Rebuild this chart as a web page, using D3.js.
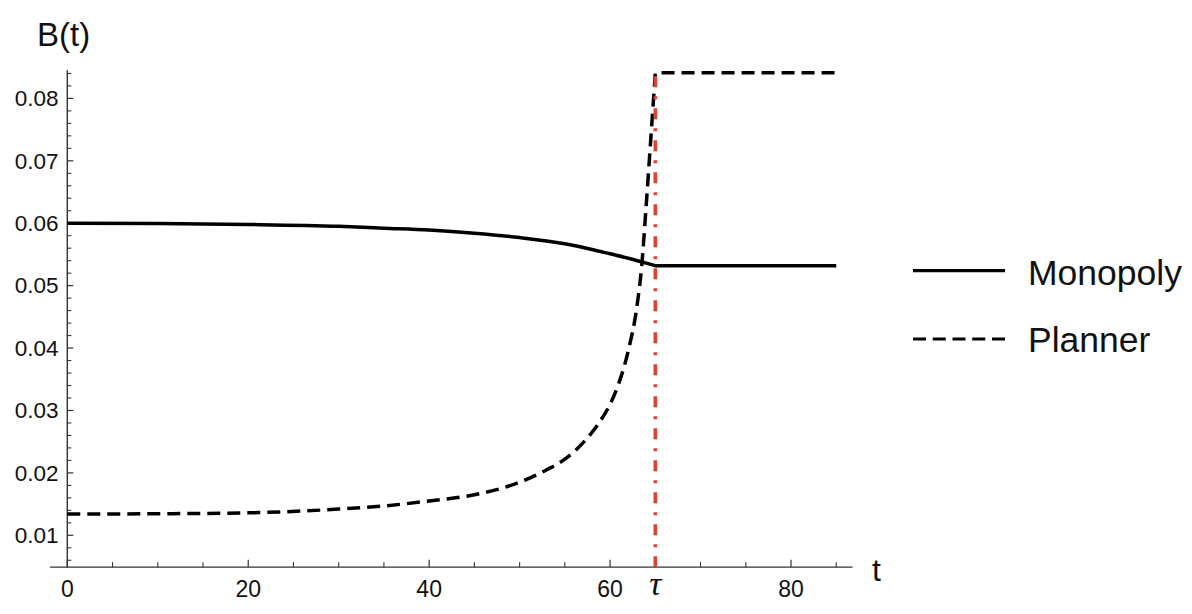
<!DOCTYPE html>
<html>
<head>
<meta charset="utf-8">
<script src="https://cdn.jsdelivr.net/npm/d3@7"></script>
<style>
  html, body { margin: 0; padding: 0; background: #fff; }
  svg { display: block; }
  text { font-family: "Liberation Sans", Arial, Helvetica, sans-serif; fill: #111; }
</style>
</head>
<body>
<svg id="chart" width="1192" height="614"></svg>
<script>
// ---- data ----
const tau = 65;
const tEnd = 85;
const monopolyT = [0, 10, 20, 30, 35, 40, 45, 50, 55, 58, 60, 62, 64, 65];
const monopolyB = [0.0600, 0.05995, 0.0598, 0.0595, 0.0592, 0.0589, 0.0584, 0.0577, 0.0567, 0.0558, 0.0551, 0.0544, 0.0536, 0.0532];
const monopolyAfter = 0.0532;
const plannerT = [0, 10, 20, 30, 35, 40, 45, 50, 53, 55, 57, 59, 60, 61, 62, 63, 63.5, 64, 64.5, 65];
const plannerB = [0.0134, 0.01345, 0.0136, 0.0142, 0.0147, 0.0155, 0.0165, 0.0185, 0.0205, 0.0222, 0.0248, 0.0285, 0.0310, 0.0345, 0.0395, 0.0470, 0.0532, 0.0630, 0.0735, 0.0841];
const plannerAfter = 0.0841;
const xMajorTicks = [0, 20, 40, 60, 80];
const xMinorTicks = [5, 10, 15, 25, 30, 35, 45, 50, 55, 65, 70, 75, 85];
const yMajorTicks = [0.01, 0.02, 0.03, 0.04, 0.05, 0.06, 0.07, 0.08];
const yMinorTicks = [0.006, 0.008, 0.012, 0.014, 0.016, 0.018, 0.022, 0.024, 0.026, 0.028,
  0.032, 0.034, 0.036, 0.038, 0.042, 0.044, 0.046, 0.048, 0.052, 0.054, 0.056, 0.058,
  0.062, 0.064, 0.066, 0.068, 0.072, 0.074, 0.076, 0.078, 0.082, 0.084];
const xDomainAxis = [-1.9, 86.8];
const yDomainAxis = [0.0049, 0.0845];
const seriesNames = ["Monopoly", "Planner"];

// ---- scales ----
const svg = d3.select("#chart");
const x = d3.scaleLinear().domain([0, 80]).range([67.3, 791]);
const y = d3.scaleLinear().domain([0.01, 0.08]).range([535.3, 98.4]);
const axisColor = "#333";

// ---- axes ----
const gAx = svg.append("g");
gAx.append("line")
  .attr("x1", x(xDomainAxis[0])).attr("x2", x(xDomainAxis[1]))
  .attr("y1", y(yDomainAxis[0])).attr("y2", y(yDomainAxis[0]))
  .attr("stroke", axisColor).attr("stroke-width", 1.4);
gAx.append("line")
  .attr("x1", x(0)).attr("x2", x(0))
  .attr("y1", y(yDomainAxis[0])).attr("y2", y(yDomainAxis[1]))
  .attr("stroke", axisColor).attr("stroke-width", 1.4);

const x0 = y(yDomainAxis[0]);
gAx.selectAll(".xmaj").data(xMajorTicks).enter().append("line")
  .attr("x1", d => x(d)).attr("x2", d => x(d))
  .attr("y1", x0).attr("y2", x0 - 7.5)
  .attr("stroke", axisColor).attr("stroke-width", 1.2);
gAx.selectAll(".xmin").data(xMinorTicks).enter().append("line")
  .attr("x1", d => x(d)).attr("x2", d => x(d))
  .attr("y1", x0).attr("y2", x0 - 5)
  .attr("stroke", axisColor).attr("stroke-width", 1.1);
gAx.selectAll(".xlab").data(xMajorTicks).enter().append("text")
  .attr("x", d => x(d)).attr("y", 596.5)
  .attr("text-anchor", "middle").attr("font-size", 23)
  .text(d => d);

const y0x = x(0);
gAx.selectAll(".ymaj").data(yMajorTicks).enter().append("line")
  .attr("x1", y0x).attr("x2", y0x + 6)
  .attr("y1", d => y(d)).attr("y2", d => y(d))
  .attr("stroke", axisColor).attr("stroke-width", 1.2);
gAx.selectAll(".ymin").data(yMinorTicks).enter().append("line")
  .attr("x1", y0x).attr("x2", y0x + 4)
  .attr("y1", d => y(d)).attr("y2", d => y(d))
  .attr("stroke", axisColor).attr("stroke-width", 1.1);
gAx.selectAll(".ylab").data(yMajorTicks).enter().append("text")
  .attr("x", 58.5).attr("y", d => y(d) + 7.8)
  .attr("text-anchor", "end").attr("font-size", 22.5)
  .text(d => d3.format(".2f")(d));

// axis labels
svg.append("text").attr("x", 37).attr("y", 46).attr("font-size", 33).text("B(t)");
svg.append("text").attr("x", 872).attr("y", 581).attr("font-size", 32).text("t");
svg.append("text").attr("x", x(tau)).attr("y", 595)
  .attr("text-anchor", "middle").attr("font-size", 34)
  .attr("font-style", "italic")
  .style("font-family", "'Liberation Serif', 'Times New Roman', serif")
  .text("τ");

// ---- lines ----
const line = d3.line().x(d => x(d[0])).y(d => y(d[1])).curve(d3.curveMonotoneX);
const monoPts = monopolyT.map((t, i) => [t, monopolyB[i]]);
const planPts = plannerT.map((t, i) => [t, plannerB[i]]);

svg.append("path")
  .attr("d", line(monoPts) + "L" + x(tEnd) + "," + y(monopolyAfter))
  .attr("fill", "none").attr("stroke", "#000").attr("stroke-width", 3.5)
  .attr("stroke-linejoin", "round");

svg.append("path")
  .attr("d", line(planPts) + "L" + x(tEnd) + "," + y(plannerAfter))
  .attr("fill", "none").attr("stroke", "#000").attr("stroke-width", 3.5)
  .attr("stroke-dasharray", "13,7");

// red tau line
svg.append("line")
  .attr("x1", x(tau)).attr("x2", x(tau))
  .attr("y1", y(yDomainAxis[0])).attr("y2", y(plannerAfter))
  .attr("stroke", "#dc4431").attr("stroke-width", 3.6)
  .attr("stroke-dasharray", "11,9,3,9");

// ---- legend ----
const lg = svg.append("g");
lg.append("line").attr("x1", 913).attr("x2", 1005).attr("y1", 270.7).attr("y2", 270.7)
  .attr("stroke", "#000").attr("stroke-width", 3.2);
lg.append("text").attr("x", 1028).attr("y", 285).attr("font-size", 35.5).text(seriesNames[0]);
lg.append("line").attr("x1", 913).attr("x2", 1005).attr("y1", 339).attr("y2", 339)
  .attr("stroke", "#000").attr("stroke-width", 3.2).attr("stroke-dasharray", "13,6.75");
lg.append("text").attr("x", 1028).attr("y", 351.7).attr("font-size", 35.5).text(seriesNames[1]);
</script>
</body>
</html>
